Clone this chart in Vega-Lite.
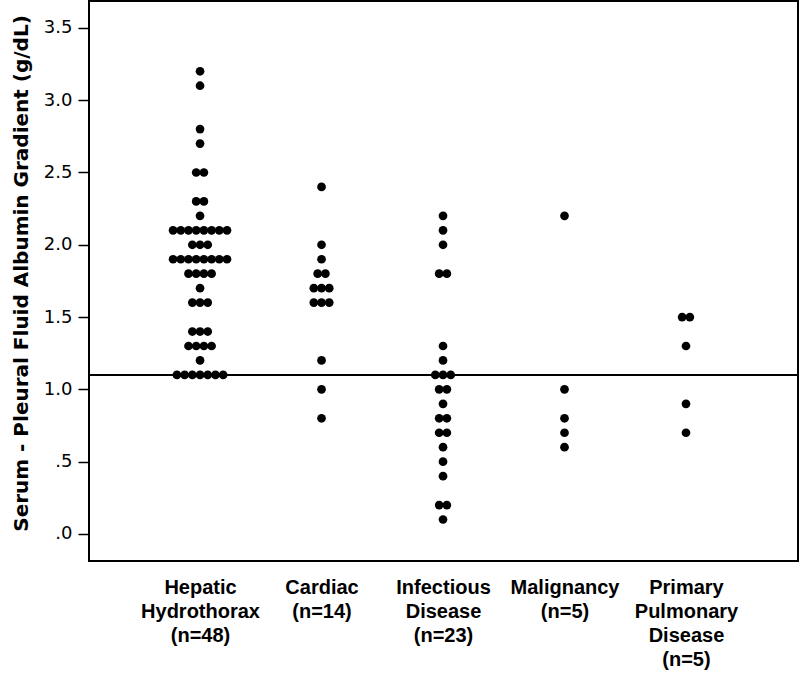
{
  "$schema": "https://vega.github.io/schema/vega-lite/v6.json",
  "width": 709,
  "height": 560,
  "autosize": {"type": "none"},
  "padding": {"left": 89, "top": 1, "right": 2, "bottom": 117},
  "background": "white",
  "config": {
    "view": {"stroke": "black", "strokeWidth": 2},
    "axis": {"grid": false, "domain": false}
  },
  "data": {
    "values": [
      {"g": "Hepatic", "v": 3.2}, {"g": "Hepatic", "v": 3.1}, {"g": "Hepatic", "v": 2.8}, {"g": "Hepatic", "v": 2.7},
      {"g": "Hepatic", "v": 2.5}, {"g": "Hepatic", "v": 2.5},
      {"g": "Hepatic", "v": 2.3}, {"g": "Hepatic", "v": 2.3},
      {"g": "Hepatic", "v": 2.2},
      {"g": "Hepatic", "v": 2.1}, {"g": "Hepatic", "v": 2.1}, {"g": "Hepatic", "v": 2.1}, {"g": "Hepatic", "v": 2.1},
      {"g": "Hepatic", "v": 2.1}, {"g": "Hepatic", "v": 2.1}, {"g": "Hepatic", "v": 2.1}, {"g": "Hepatic", "v": 2.1},
      {"g": "Hepatic", "v": 2.0}, {"g": "Hepatic", "v": 2.0}, {"g": "Hepatic", "v": 2.0},
      {"g": "Hepatic", "v": 1.9}, {"g": "Hepatic", "v": 1.9}, {"g": "Hepatic", "v": 1.9}, {"g": "Hepatic", "v": 1.9},
      {"g": "Hepatic", "v": 1.9}, {"g": "Hepatic", "v": 1.9}, {"g": "Hepatic", "v": 1.9}, {"g": "Hepatic", "v": 1.9},
      {"g": "Hepatic", "v": 1.8}, {"g": "Hepatic", "v": 1.8}, {"g": "Hepatic", "v": 1.8}, {"g": "Hepatic", "v": 1.8},
      {"g": "Hepatic", "v": 1.7},
      {"g": "Hepatic", "v": 1.6}, {"g": "Hepatic", "v": 1.6}, {"g": "Hepatic", "v": 1.6},
      {"g": "Hepatic", "v": 1.4}, {"g": "Hepatic", "v": 1.4}, {"g": "Hepatic", "v": 1.4},
      {"g": "Hepatic", "v": 1.3}, {"g": "Hepatic", "v": 1.3}, {"g": "Hepatic", "v": 1.3}, {"g": "Hepatic", "v": 1.3},
      {"g": "Hepatic", "v": 1.2},
      {"g": "Hepatic", "v": 1.1}, {"g": "Hepatic", "v": 1.1}, {"g": "Hepatic", "v": 1.1}, {"g": "Hepatic", "v": 1.1},
      {"g": "Hepatic", "v": 1.1}, {"g": "Hepatic", "v": 1.1}, {"g": "Hepatic", "v": 1.1},
      {"g": "Cardiac", "v": 2.4}, {"g": "Cardiac", "v": 2.0}, {"g": "Cardiac", "v": 1.9},
      {"g": "Cardiac", "v": 1.8}, {"g": "Cardiac", "v": 1.8},
      {"g": "Cardiac", "v": 1.7}, {"g": "Cardiac", "v": 1.7}, {"g": "Cardiac", "v": 1.7},
      {"g": "Cardiac", "v": 1.6}, {"g": "Cardiac", "v": 1.6}, {"g": "Cardiac", "v": 1.6},
      {"g": "Cardiac", "v": 1.2}, {"g": "Cardiac", "v": 1.0}, {"g": "Cardiac", "v": 0.8},
      {"g": "Infectious", "v": 2.2}, {"g": "Infectious", "v": 2.1}, {"g": "Infectious", "v": 2.0},
      {"g": "Infectious", "v": 1.8}, {"g": "Infectious", "v": 1.8},
      {"g": "Infectious", "v": 1.3}, {"g": "Infectious", "v": 1.2},
      {"g": "Infectious", "v": 1.1}, {"g": "Infectious", "v": 1.1}, {"g": "Infectious", "v": 1.1},
      {"g": "Infectious", "v": 1.0}, {"g": "Infectious", "v": 1.0},
      {"g": "Infectious", "v": 0.9},
      {"g": "Infectious", "v": 0.8}, {"g": "Infectious", "v": 0.8},
      {"g": "Infectious", "v": 0.7}, {"g": "Infectious", "v": 0.7},
      {"g": "Infectious", "v": 0.6}, {"g": "Infectious", "v": 0.5}, {"g": "Infectious", "v": 0.4},
      {"g": "Infectious", "v": 0.2}, {"g": "Infectious", "v": 0.2},
      {"g": "Infectious", "v": 0.1},
      {"g": "Malignancy", "v": 2.2}, {"g": "Malignancy", "v": 1.0}, {"g": "Malignancy", "v": 0.8},
      {"g": "Malignancy", "v": 0.7}, {"g": "Malignancy", "v": 0.6},
      {"g": "Primary", "v": 1.5}, {"g": "Primary", "v": 1.5}, {"g": "Primary", "v": 1.3},
      {"g": "Primary", "v": 0.9}, {"g": "Primary", "v": 0.7}
    ]
  },
  "layer": [
    {
      "transform": [
        {"window": [{"op": "row_number", "as": "k"}, {"op": "count", "as": "n"}], "groupby": ["g", "v"], "frame": [null, null]},
        {"calculate": "indexof(['Hepatic','Cardiac','Infectious','Malignancy','Primary'], datum.g) + (datum.k - (datum.n + 1) / 2) * 0.0634", "as": "xpos"}
      ],
      "mark": {"type": "circle", "size": 76, "color": "black", "opacity": 1},
      "encoding": {
        "x": {
          "field": "xpos", "type": "quantitative",
          "scale": {"domain": [-0.914, 4.922], "nice": false, "zero": false},
          "axis": {
            "values": [0, 1, 2, 3, 4],
            "title": null,
            "ticks": false,
            "labelExpr": "[['Hepatic','Hydrothorax','(n=48)'],['Cardiac','(n=14)'],['Infectious','Disease','(n=23)'],['Malignancy','(n=5)'],['Primary','Pulmonary','Disease','(n=5)']][datum.value]",
            "labelFont": "Liberation Sans",
            "labelFontWeight": "bold",
            "labelFontSize": 20,
            "labelColor": "black",
            "labelLineHeight": 24,
            "labelPadding": 16,
            "labelBaseline": "top",
            "labelAlign": "center",
            "labelOverlap": false,
            "labelFlush": false
          }
        },
        "y": {
          "field": "v", "type": "quantitative",
          "scale": {"domain": [-0.187, 3.686], "nice": false, "zero": false},
          "axis": {
            "values": [0, 0.5, 1, 1.5, 2, 2.5, 3, 3.5],
            "labelExpr": "datum.value < 1 ? replace(format(datum.value, '.1f'), '0.', '.') : format(datum.value, '.1f')",
            "title": "Serum - Pleural Fluid Albumin Gradient (g/dL)",
            "titleFont": "DejaVu Sans",
            "titleFontWeight": "bold",
            "titleFontSize": 20,
            "titleColor": "black",
            "titlePadding": 12,
            "titleY": 272,
            "labelFont": "DejaVu Sans",
            "labelFontSize": 18,
            "labelColor": "black",
            "labelPadding": 6,
            "tickSize": 11,
            "tickColor": "black",
            "tickWidth": 1.5
          }
        }
      }
    },
    {
      "mark": {"type": "rule", "color": "black", "strokeWidth": 2},
      "encoding": {"y": {"datum": 1.1}}
    }
  ]
}
